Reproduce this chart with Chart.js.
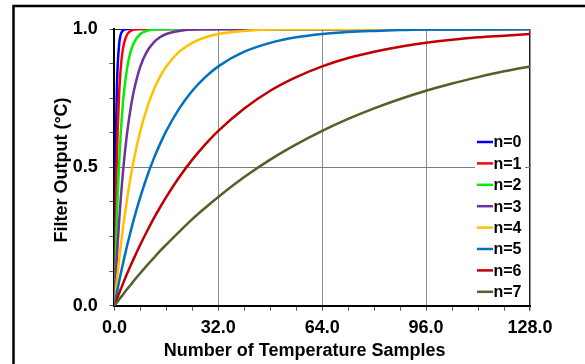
<!DOCTYPE html>
<html>
<head>
<meta charset="utf-8">
<script src="https://cdn.jsdelivr.net/npm/chart.js@4/dist/chart.umd.min.js"></script>
<style>
  body { margin: 0; background: #fff; }
  #wrap { width: 585px; height: 364px; }
</style>
</head>
<body>
<div id="wrap"><canvas id="filterChart" width="585" height="364"></canvas></div>
<script>
const samples = [0, 0.25, 0.5, 0.75, 1, 1.5, 2, 2.5, 3, 4, 5, 6, 8, 10, 12, 14, 16, 20, 24, 28, 32, 40, 48, 56, 64, 72, 80, 88, 96, 104, 112, 120, 128];

const n0 = [0, .393, .632, .777, .865, .950, .982, .993, .998, 1, 1, 1, 1, 1, 1, 1, 1, 1, 1, 1, 1, 1, 1, 1, 1, 1, 1, 1, 1, 1, 1, 1, 1];
const n1 = [0, .221, .393, .528, .632, .777, .865, .918, .950, .982, .993, .998, 1, 1, 1, 1, 1, 1, 1, 1, 1, 1, 1, 1, 1, 1, 1, 1, 1, 1, 1, 1, 1];
const n2 = [0, .118, .221, .313, .393, .528, .632, .713, .777, .865, .918, .950, .982, .993, .998, .999, 1, 1, 1, 1, 1, 1, 1, 1, 1, 1, 1, 1, 1, 1, 1, 1, 1];
const n3 = [0, .061, .118, .171, .221, .313, .393, .465, .528, .632, .713, .777, .865, .918, .950, .970, .982, .993, .998, .999, 1, 1, 1, 1, 1, 1, 1, 1, 1, 1, 1, 1, 1];
const n4 = [0, .031, .061, .090, .118, .171, .221, .268, .313, .393, .465, .528, .632, .713, .777, .826, .865, .918, .950, .970, .982, .993, .998, .999, 1, 1, 1, 1, 1, 1, 1, 1, 1];
const n5 = [0, .015, .031, .046, .061, .090, .118, .145, .171, .221, .268, .313, .393, .465, .528, .583, .632, .713, .777, .826, .865, .918, .950, .970, .982, .989, .993, .996, .998, .998, .999, .999, 1];
const n6 = [0, .008, .015, .023, .031, .046, .061, .075, .090, .118, .145, .171, .221, .268, .313, .354, .393, .465, .528, .583, .632, .713, .777, .826, .865, .895, .918, .936, .950, .961, .970, .976, .982];
const n7 = [0, .004, .008, .012, .015, .023, .031, .038, .046, .061, .075, .090, .118, .145, .171, .197, .221, .268, .313, .354, .393, .465, .528, .583, .632, .675, .713, .747, .777, .803, .826, .847, .865];

const seriesNames = ["n=0", "n=1", "n=2", "n=3", "n=4", "n=5", "n=6", "n=7"];
const seriesValues = [n0, n1, n2, n3, n4, n5, n6, n7];
const seriesColors = ["#0000ff", "#ff0000", "#00f000", "#7030a0", "#ffc000", "#0070c0", "#c00000", "#4f6228"];

const xTickLabels = [0, 32, 64, 96, 128];
const yTickLabels = [0, 0.5, 1];

const fontFamily = "'Liberation Sans', Arial, sans-serif";

const frame = {
  id: "frame",
  beforeDraw(chart) {
    const ctx = chart.ctx;
    ctx.save();
    ctx.fillStyle = "#fff";
    ctx.fillRect(0, 0, chart.width, chart.height);
    ctx.strokeStyle = "#000";
    ctx.lineWidth = 2.5;
    ctx.strokeRect(13.5, 6, 700, 500);
    ctx.restore();
  },
  afterDraw(chart) {
    const ctx = chart.ctx;
    ctx.save();
    ctx.fillStyle = "#000";
    ctx.font = "bold 18px " + fontFamily;
    ctx.textAlign = "center";
    ctx.textBaseline = "alphabetic";
    ctx.fillText("Number of Temperature Samples", 304.7, 356);
    ctx.translate(67, 170);
    ctx.rotate(-Math.PI / 2);
    ctx.fillText("Filter Output (\u00b0C)", 0, 0);
    ctx.restore();

    // legend box inside the plot
    ctx.save();
    ctx.fillStyle = "#fff";
    ctx.fillRect(475, 131, 50, 172);
    ctx.font = "bold 16px " + fontFamily;
    ctx.textAlign = "left";
    ctx.textBaseline = "middle";
    chart.data.datasets.forEach((ds, i) => {
      const y = 142 + i * 21.4;
      ctx.strokeStyle = ds.borderColor;
      ctx.lineWidth = 2.5;
      ctx.beginPath();
      ctx.moveTo(477, y);
      ctx.lineTo(493, y);
      ctx.stroke();
      ctx.fillStyle = "#000";
      ctx.fillText(ds.label, 493.5, y + 1);
    });
    ctx.restore();
  },
};

const ctx = document.getElementById("filterChart").getContext("2d");

new Chart(ctx, {
  type: "line",
  data: {
    datasets: seriesNames.map((name, i) => ({
      label: name,
      data: samples.map((x, k) => ({ x: x, y: seriesValues[i][k] })),
      borderColor: seriesColors[i],
      backgroundColor: seriesColors[i],
      borderWidth: 2.5,
      pointRadius: 0,
      cubicInterpolationMode: "monotone",
      order: 7 - i,
    })),
  },
  options: {
    responsive: false,
    animation: false,
    devicePixelRatio: 1,
    layout: { padding: { top: 29, right: 55, left: 0, bottom: 0 } },
    plugins: {
      legend: { display: false },
      tooltip: { enabled: false },
    },
    scales: {
      x: {
        type: "linear",
        min: 0,
        max: 128,
        afterFit: (scale) => { scale.height = 58.3; },
        ticks: {
          stepSize: 8,
          autoSkip: false,
          maxRotation: 0,
          padding: 6.5,
          color: "#000",
          font: { family: fontFamily, size: 18, weight: "bold" },
          callback: (v) => (xTickLabels.includes(v) ? v.toFixed(1) : ""),
        },
        grid: {
          tickLength: 5,
          tickColor: "#555",
          lineWidth: (c) => (c.tick && c.tick.value === 128 ? 1.5 : 1),
          color: (c) => {
            const v = c.tick ? c.tick.value : null;
            if (v === 128) return "#222";
            if (v === 32 || v === 64 || v === 96) return "#8c8c8c";
            return "rgba(0,0,0,0)";
          },
        },
        border: { color: "#000", width: 2 },
      },
      y: {
        min: 0,
        max: 1,
        afterFit: (scale) => { scale.width = 114.4; },
        ticks: {
          stepSize: 0.125,
          autoSkip: false,
          padding: 11.7,
          color: "#000",
          font: { family: fontFamily, size: 18, weight: "bold" },
          callback: (v) => (yTickLabels.some((t) => Math.abs(t - v) < 1e-9) ? v.toFixed(1) : ""),
        },
        grid: {
          tickLength: 5,
          tickColor: "#555",
          color: (c) => {
            const v = c.tick ? c.tick.value : null;
            if (Math.abs(v - 1) < 1e-9) return "#222";
            if (Math.abs(v - 0.5) < 1e-9) return "#7a7a7a";
            return "rgba(0,0,0,0)";
          },
        },
        border: { color: "#000", width: 2 },
      },
    },
  },
  plugins: [frame],
});
</script>
</body>
</html>
